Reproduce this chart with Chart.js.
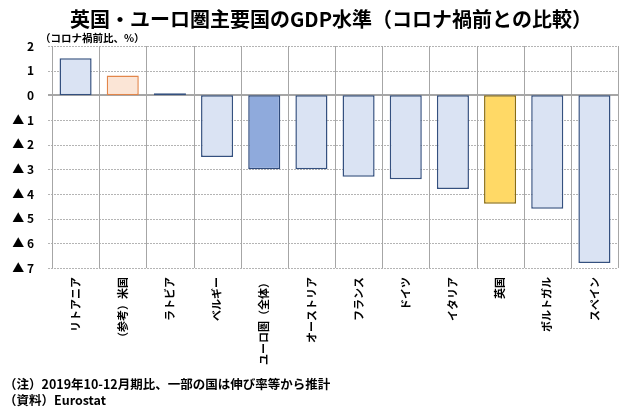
<!DOCTYPE html>
<html lang="ja">
<head>
<meta charset="utf-8">
<title>英国・ユーロ圏主要国のGDP水準</title>
<script src="https://cdn.jsdelivr.net/npm/chart.js@4.4.1/dist/chart.umd.min.js"></script>
<style>
  html, body { margin: 0; padding: 0; background: #fff; }
  #wrap { position: relative; width: 621px; height: 412px; }
</style>
</head>
<body>
<div id="wrap"><canvas id="gdpChart"></canvas></div>
<script>
const categories = ['リトアニア', '（参考）米国', 'ラトビア', 'ベルギー', 'ユーロ圏（全体）', 'オーストリア', 'フランス', 'ドイツ', 'イタリア', '英国', 'ポルトガル', 'スペイン'];
const gdpChange = [1.5, 0.8, 0.08, -2.5, -3.0, -3.0, -3.3, -3.4, -3.8, -4.4, -4.6, -6.8];
const tickValues = [2, 1, 0, -1, -2, -3, -4, -5, -6, -7];
const tickLabels = ['2', '1', '0', '▲ 1', '▲ 2', '▲ 3', '▲ 4', '▲ 5', '▲ 6', '▲ 7'];

const titleText = '英国・ユーロ圏主要国のGDP水準（コロナ禍前との比較）';
const unitText = '（コロナ禍前比、%）';
const notes = ['（注）2019年10-12月期比、一部の国は伸び率等から推計', '（資料）Eurostat'];

const FONT = '"Noto Sans CJK JP", "Noto Sans", sans-serif';

// highlighted bars: US (orange), euro area (blue), UK (yellow)
const fills = categories.map((c, i) => i === 1 ? '#fbe5d6' : i === 4 ? '#8faadc' : i === 9 ? '#ffd966' : '#dae3f3');
const borders = categories.map((c, i) => i === 1 ? '#e3864a' : i === 4 ? '#2f4b7c' : i === 9 ? '#8a6d10' : '#34507f');

// grid drawn by hand from the scales (dotted horizontals, solid verticals, solid zero line)
const gridPlugin = {
  id: 'excelGrid',
  beforeDatasetsDraw(chart) {
    const { ctx, chartArea: a, scales: { x, y } } = chart;
    const step = (a.right - a.left) / categories.length;
    ctx.save();
    ctx.lineWidth = 1;
    ctx.strokeStyle = '#b4b4b4';
    ctx.setLineDash([2, 1]);
    tickValues.forEach(v => {
      if (v === 0) return;
      const py = Math.round(y.getPixelForValue(v)) + 0.5;
      ctx.beginPath(); ctx.moveTo(a.left - 4, py); ctx.lineTo(a.right, py); ctx.stroke();
    });
    ctx.setLineDash([]);
    ctx.strokeStyle = '#a6a6a6';
    for (let i = 0; i <= categories.length; i++) {
      const px = Math.round(i < categories.length ? x.getPixelForValue(i) - step / 2 : x.getPixelForValue(i - 1) + step / 2) + 0.5;
      ctx.beginPath(); ctx.moveTo(px, a.top); ctx.lineTo(px, a.bottom); ctx.stroke();
    }
    const zy = Math.round(y.getPixelForValue(0));
    ctx.lineWidth = 2;
    ctx.strokeStyle = '#a6a6a6';
    ctx.beginPath(); ctx.moveTo(a.left - 4, zy); ctx.lineTo(a.right, zy); ctx.stroke();
    ctx.restore();
  }
};

const textPlugin = {
  id: 'texts',
  afterDraw(chart) {
    const ctx = chart.ctx;
    ctx.save();
    ctx.fillStyle = '#000';
    ctx.textBaseline = 'middle';
    ctx.font = 'bold 20px ' + FONT;
    ctx.textAlign = 'center';
    ctx.fillText(titleText, 331, 19);
    ctx.textAlign = 'left';
    ctx.font = 'bold 10.5px ' + FONT;
    ctx.fillText(unitText, 40, 38);
    ctx.font = 'bold 12.5px ' + FONT;
    ctx.fillText(notes[0], 4, 384);
    ctx.fillText(notes[1], 4, 400);
    ctx.restore();
  }
};

new Chart(document.getElementById('gdpChart').getContext('2d'), {
  type: 'bar',
  data: {
    labels: categories,
    datasets: [{
      data: gdpChange,
      backgroundColor: fills,
      borderColor: borders,
      borderWidth: 1.5,
      borderSkipped: false,
      categoryPercentage: 1,
      barPercentage: 0.68
    }]
  },
  options: {
    responsive: true,
    maintainAspectRatio: false,
    animation: false,
    layout: { padding: { top: 46, right: 3, bottom: 44, left: 0 } },
    plugins: { legend: { display: false }, tooltip: { enabled: false } },
    scales: {
      x: {
        grid: { display: false },
        border: { display: false },
        ticks: {
          autoSkip: false, minRotation: 90, maxRotation: 90, padding: 1,
          color: '#000', font: { family: FONT, size: 11, weight: 'bold' }
        },
        afterFit(scale) { scale.height = 100; }
      },
      y: {
        min: -7, max: 2,
        afterBuildTicks(scale) { scale.ticks = tickValues.map(v => ({ value: v })); },
        grid: { display: false },
        border: { display: true, color: '#a6a6a6', width: 1 },
        ticks: {
          padding: 10, color: '#000',
          font: { family: FONT, size: 12, weight: 'bold' },
          callback: v => tickLabels[tickValues.indexOf(v)]
        },
        afterFit(scale) { scale.width = 52; }
      }
    }
  },
  plugins: [gridPlugin, textPlugin]
});
</script>
</body>
</html>
